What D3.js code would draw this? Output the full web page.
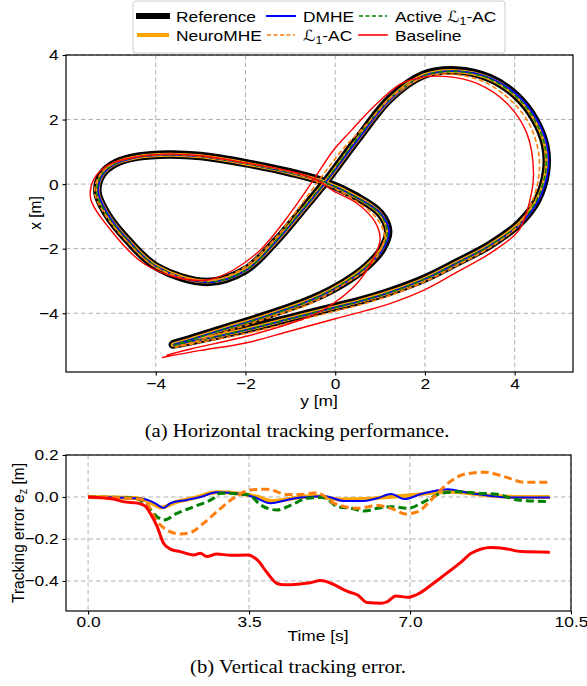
<!DOCTYPE html>
<html>
<head>
<meta charset="utf-8">
<script src="https://cdn.jsdelivr.net/npm/d3@7"></script>
<style>
  html, body { margin: 0; padding: 0; background: #ffffff; }
  svg { display: block; }
</style>
</head>
<body>
<svg id="chart" width="587" height="686"></svg>
<script>
// ---------------- DATA ----------------
// Top panel: horizontal trajectories, points as [y (m), x (m)]
const seriesNames = ["Reference", "NeuroMHE", "DMHE", "Active L1-AC", "L1-AC", "Baseline"];

const refPath = [
  [-3.62,-4.97],[-3.0,-4.8],[-2.0,-4.5],[-1.0,-4.15],[0.0,-3.8],[0.5,-3.63],[1.2,-3.34],
  [2.0,-2.92],[2.72,-2.42],[3.45,-1.88],[4.1,-1.22],[4.5,-0.5],[4.7,0.4],[4.68,1.2],
  [4.45,2.0],[4.05,2.72],[3.45,3.28],[2.7,3.52],[1.96,3.38],[1.22,2.65],[0.5,1.4],
  [-0.2,0.1],[-0.78,-0.88],[-1.3,-1.73],[-2.0,-2.66],[-2.85,-3.03],[-3.97,-2.57],
  [-4.63,-1.73],[-5.1,-0.9],[-5.3,-0.25],[-5.2,0.3],[-4.9,0.65],[-4.4,0.85],[-3.7,0.92],
  [-3.0,0.87],[-2.0,0.65],[-1.0,0.36],[-0.2,0.05],[0.49,-0.4],[1.0,-0.9],[1.18,-1.45],
  [1.05,-2.0],[0.7,-2.55],[0.2,-3.05],[-0.5,-3.55],[-1.5,-4.05],[-2.5,-4.48],[-3.3,-4.83],[-3.6,-4.95]
];
const neuroPath = [
  [-3.62,-4.98],[-3.0,-4.81],[-2.0,-4.51],[-1.0,-4.16],[0.0,-3.81],[0.5,-3.64],[1.2,-3.35],
  [2.0,-2.93],[2.72,-2.43],[3.45,-1.89],[4.1,-1.23],[4.5,-0.5],[4.7,0.4],[4.68,1.2],
  [4.45,2.0],[4.05,2.72],[3.45,3.27],[2.7,3.5],[1.96,3.36],[1.22,2.63],[0.5,1.39],
  [-0.2,0.09],[-0.78,-0.89],[-1.3,-1.74],[-2.0,-2.66],[-2.85,-3.02],[-3.97,-2.56],
  [-4.63,-1.72],[-5.09,-0.9],[-5.29,-0.25],[-5.19,0.3],[-4.9,0.64],[-4.4,0.84],[-3.7,0.91],
  [-3.0,0.86],[-2.0,0.64],[-1.0,0.35],[-0.2,0.04],[0.49,-0.41],[1.0,-0.91],[1.17,-1.46],
  [1.04,-2.01],[0.69,-2.56],[0.19,-3.06],[-0.5,-3.56],[-1.5,-4.06],[-2.5,-4.49],[-3.3,-4.84],[-3.6,-4.96]
];
const dmhePath = [
  [-3.6,-4.98],[-3.0,-4.82],[-2.0,-4.52],[-1.0,-4.17],[0.0,-3.82],[0.5,-3.65],[1.2,-3.36],
  [2.0,-2.94],[2.72,-2.44],[3.45,-1.9],[4.12,-1.24],[4.53,-0.5],[4.74,0.4],[4.72,1.2],
  [4.49,2.0],[4.08,2.73],[3.47,3.28],[2.7,3.5],[1.96,3.35],[1.22,2.61],[0.5,1.37],
  [-0.2,0.08],[-0.78,-0.9],[-1.3,-1.75],[-2.0,-2.68],[-2.85,-3.04],[-3.97,-2.57],
  [-4.62,-1.73],[-5.08,-0.9],[-5.28,-0.25],[-5.18,0.3],[-4.88,0.64],[-4.4,0.84],[-3.7,0.91],
  [-3.0,0.86],[-2.0,0.64],[-1.0,0.35],[-0.2,0.03],[0.49,-0.42],[1.02,-0.92],[1.2,-1.47],
  [1.06,-2.02],[0.7,-2.57],[0.2,-3.07],[-0.5,-3.57],[-1.5,-4.07],[-2.5,-4.5],[-3.3,-4.85],[-3.58,-4.96]
];
const activePath = [
  [-3.6,-4.99],[-3.0,-4.82],[-2.0,-4.52],[-1.0,-4.17],[0.0,-3.82],[0.5,-3.65],[1.2,-3.36],
  [2.0,-2.94],[2.72,-2.44],[3.45,-1.9],[4.09,-1.24],[4.49,-0.5],[4.69,0.4],[4.67,1.2],
  [4.44,2.0],[4.04,2.71],[3.44,3.26],[2.7,3.49],[1.96,3.35],[1.2,2.62],[0.47,1.38],
  [-0.22,0.08],[-0.8,-0.9],[-1.32,-1.75],[-2.0,-2.67],[-2.85,-3.03],[-3.97,-2.56],
  [-4.64,-1.72],[-5.11,-0.9],[-5.31,-0.25],[-5.2,0.3],[-4.9,0.64],[-4.4,0.84],[-3.7,0.91],
  [-3.0,0.86],[-2.0,0.64],[-1.0,0.35],[-0.2,0.03],[0.48,-0.42],[0.99,-0.92],[1.16,-1.47],
  [1.03,-2.02],[0.68,-2.57],[0.18,-3.07],[-0.52,-3.58],[-1.5,-4.08],[-2.5,-4.51],[-3.3,-4.86],[-3.58,-4.97]
];
const l1Path = [
  [-3.58,-5.06],[-3.0,-4.9],[-2.0,-4.63],[-1.0,-4.29],[0.0,-3.93],[0.5,-3.76],[1.2,-3.46],
  [2.0,-3.02],[2.72,-2.52],[3.45,-1.96],[4.05,-1.32],[4.4,-0.5],[4.55,0.4],[4.5,1.2],
  [4.27,2.0],[3.87,2.65],[3.3,3.18],[2.62,3.4],[1.96,3.3],[1.3,2.75],[0.7,1.85],
  [0.15,1.05],[-0.45,-0.05],[-0.9,-0.9],[-1.45,-1.85],[-2.1,-2.64],[-2.85,-3.0],[-3.97,-2.6],
  [-4.66,-1.75],[-5.15,-0.9],[-5.36,-0.25],[-5.24,0.3],[-4.92,0.65],[-4.4,0.85],[-3.7,0.92],
  [-3.0,0.87],[-2.0,0.65],[-1.0,0.37],[-0.25,0.02],[0.38,-0.45],[0.9,-1.02],[1.1,-1.57],
  [1.0,-2.08],[0.67,-2.66],[0.12,-3.17],[-0.5,-3.67],[-1.5,-4.15],[-2.5,-4.6],[-3.3,-4.95],[-3.55,-5.04]
];
const basePath = [
  [-3.85,-5.37],[-3.0,-5.15],[-2.0,-4.92],[-1.0,-4.55],[0.0,-4.17],[1.22,-3.7],[2.0,-3.27],
  [2.72,-2.72],[3.5,-2.1],[4.1,-1.42],[4.34,-0.5],[4.42,0.34],[4.27,1.58],[3.83,2.5],
  [3.16,3.12],[2.5,3.33],[1.9,3.3],[1.45,3.1],[0.85,2.39],[0.35,1.65],[-0.04,1.05],
  [-0.5,0.1],[-1.0,-0.9],[-1.67,-2.04],[-2.27,-2.66],[-2.85,-2.97],[-3.5,-2.9],
  [-4.27,-2.46],[-5.0,-1.43],[-5.45,-0.45],[-5.38,0.15],[-5.05,0.6],[-4.4,0.85],[-3.7,0.93],
  [-3.0,0.88],[-2.0,0.66],[-1.0,0.4],[-0.4,0.12],[-0.05,-0.2],[0.49,-0.6],[0.9,-1.2],
  [1.0,-1.73],[0.85,-2.3],[0.49,-3.07],[-0.27,-3.9],[-0.78,-4.21],[-2.0,-4.72],[-3.2,-5.1],[-3.75,-5.3]
];

// Bottom panel: vertical tracking error e_z (m) versus time (s)
const neuroT = [0, 1.0, 1.3, 1.6, 1.9, 2.3, 2.8, 3.3, 3.7, 4.0, 4.4, 4.9, 5.5, 6.0, 6.5, 7.0, 7.5, 7.9, 8.4, 8.9, 9.5, 10.04];
const neuroV = [0, -0.005, -0.02, -0.05, -0.025, -0.005, 0.022, 0.015, 0.0, -0.02, -0.008, 0.005, -0.012, -0.01, 0.0, 0.008, 0.02, 0.025, 0.015, 0.003, 0.0, 0.0];
const dmheT = [0, 0.99, 1.21, 1.46, 1.64, 1.79, 2.15, 2.44, 2.8, 3.32, 3.6, 3.97, 4.33, 4.62, 4.84, 5.13, 5.57, 6.0, 6.29, 6.59, 6.88, 7.24, 7.53, 7.82, 8.26, 8.76, 9.2, 10.04];
const dmheV = [0, -0.006, -0.01, -0.03, -0.052, -0.03, -0.014, 0, 0.022, 0.014, 0, -0.03, -0.014, -0.002, 0, 0.005, -0.019, -0.019, -0.006, 0.014, -0.01, 0.014, 0.029, 0.037, 0.02, 0.005, -0.003, -0.003];
const activeT = [0, 1.0, 1.21, 1.5, 1.64, 1.93, 2.3, 2.73, 2.88, 3.32, 3.5, 3.75, 4.11, 4.4, 4.77, 5.1, 5.43, 5.72, 6.0, 6.29, 6.59, 6.95, 7.31, 7.68, 8.04, 8.47, 8.9, 9.34, 10.04];
const activeV = [0, -0.005, -0.025, -0.094, -0.11, -0.078, -0.046, -0.006, 0.018, 0.014, 0.01, -0.038, -0.062, -0.04, -0.006, -0.002, -0.046, -0.054, -0.067, -0.054, -0.046, -0.054, -0.022, 0.018, 0.025, 0.018, 0.013, -0.014, -0.022];
const l1T = [0, 0.8, 1.21, 1.5, 1.71, 2.0, 2.22, 2.51, 2.8, 3.16, 3.52, 3.89, 4.33, 4.62, 4.98, 5.35, 5.86, 6.29, 6.59, 6.91, 7.17, 7.46, 7.82, 8.18, 8.62, 9.05, 9.49, 9.93, 10.04];
const l1V = [0, -0.005, -0.014, -0.117, -0.157, -0.176, -0.17, -0.125, -0.07, -0.006, 0.033, 0.037, 0.012, 0.012, 0.02, -0.03, -0.054, -0.041, -0.054, -0.081, -0.07, -0.014, 0.065, 0.108, 0.118, 0.097, 0.07, 0.07, 0.07];
const baseT = [0, 0.55, 0.76, 1.1, 1.25, 1.35, 1.5, 1.64, 1.79, 2.0, 2.3, 2.44, 2.58, 2.8, 3.1, 3.46, 3.68, 3.89, 4.11, 4.26, 4.62, 4.8, 5.06, 5.28, 5.64, 5.86, 6.07, 6.37, 6.51, 6.69, 6.95, 7.2, 7.46, 7.75, 8.11, 8.33, 8.76, 9.05, 9.42, 10.04];
const baseV = [0, -0.01, -0.022, -0.03, -0.045, -0.077, -0.14, -0.22, -0.248, -0.26, -0.276, -0.268, -0.284, -0.271, -0.278, -0.276, -0.30, -0.36, -0.412, -0.418, -0.414, -0.41, -0.398, -0.411, -0.45, -0.467, -0.503, -0.506, -0.498, -0.471, -0.478, -0.459, -0.419, -0.371, -0.31, -0.268, -0.24, -0.245, -0.26, -0.263];

// Tick values
const topXTicks = [-4, -2, 0, 2, 4];
const topYTicks = [-4, -2, 0, 2, 4];
const botXTicks = [0, 3.5, 7.0, 10.5];
const botYTicks = [-0.4, -0.2, 0.0, 0.2];

// ---------------- DRAWING ----------------
const svg = d3.select("#chart");
const SANS = "'Liberation Sans', Arial, Helvetica, sans-serif";
const SERIF = "'Liberation Serif', 'Times New Roman', serif";
const SX = 1.12; // horizontal stretch of the original figure
const minus = s => s.replace("-", "\u2212");

function addText(g, x, y, str, opts = {}) {
  const rot = opts.rotate ? ` rotate(${opts.rotate})` : "";
  const sc = opts.rotate ? `scale(1,${SX})` : `scale(${SX},1)`;
  return g.append("text")
    .attr("transform", `translate(${x},${y})${rot} ${sc}`)
    .attr("text-anchor", opts.anchor || "middle")
    .attr("font-family", opts.family || SANS)
    .attr("font-size", opts.size || 15.5)
    .attr("fill", "#000")
    .text(str);
}

function styleAxis(g) {
  g.select(".domain").remove();
  g.selectAll(".tick line").attr("stroke", "#000").attr("stroke-width", 1.1);
  g.selectAll(".tick text")
    .attr("font-family", SANS).attr("font-size", 15.5).attr("fill", "#000");
}

function dashGrid(g, x1, x2, y1, y2) {
  g.append("line").attr("x1", x1).attr("x2", x2).attr("y1", y1).attr("y2", y2)
    .attr("stroke", "#b0b0b0").attr("stroke-width", 1).attr("stroke-dasharray", "4.5,3");
}

// ---------- Top panel ----------
const T = { l: 66, r: 573, t: 55, b: 372 };
const hScale = d3.scaleLinear().domain([-6.0, 5.3]).range([T.l, T.r]);
const vScale = d3.scaleLinear().domain([-5.82, 4.0]).range([T.b, T.t]);

svg.append("clipPath").attr("id", "clipTop").append("rect")
  .attr("x", T.l).attr("y", T.t).attr("width", T.r - T.l).attr("height", T.b - T.t);

const gTopGrid = svg.append("g");
topXTicks.forEach(v => dashGrid(gTopGrid, hScale(v), hScale(v), T.t, T.b));
topYTicks.forEach(v => dashGrid(gTopGrid, T.l, T.r, vScale(v), vScale(v)));

const pathLine = d3.line().x(d => hScale(d[0])).y(d => vScale(d[1])).curve(d3.curveCatmullRom.alpha(0.5));
const topStyles = [
  { data: refPath, color: "#000000", w: 8.5, dash: null },
  { data: neuroPath, color: "#ffa500", w: 4, dash: null },
  { data: dmhePath, color: "#0000ff", w: 1.8, dash: null },
  { data: activePath, color: "#008000", w: 1.6, dash: "5,2.5" },
  { data: l1Path, color: "#ff7f0e", w: 1.6, dash: "5,2.5" },
  { data: basePath, color: "#ff0000", w: 1.4, dash: null }
];
const gTopLines = svg.append("g").attr("clip-path", "url(#clipTop)");
topStyles.forEach(s => {
  gTopLines.append("path").attr("d", pathLine(s.data))
    .attr("fill", "none").attr("stroke", s.color).attr("stroke-width", s.w)
    .attr("stroke-linecap", s.dash ? "butt" : "round").attr("stroke-linejoin", "round")
    .attr("stroke-dasharray", s.dash);
});

const axTB = svg.append("g").attr("transform", `translate(0,${T.b})`)
  .call(d3.axisBottom(hScale).tickValues(topXTicks).tickSizeInner(3.5).tickSizeOuter(0).tickPadding(2.5)
    .tickFormat(d => minus(d3.format("d")(d))));
styleAxis(axTB);
axTB.selectAll(".tick text").attr("transform", `scale(${SX},1)`);
const axTL = svg.append("g").attr("transform", `translate(${T.l},0)`)
  .call(d3.axisLeft(vScale).tickValues(topYTicks).tickSizeInner(3.5).tickSizeOuter(0).tickPadding(3)
    .tickFormat(d => minus(d3.format("d")(d))));
styleAxis(axTL);
axTL.selectAll(".tick text").attr("transform", `scale(${SX},1)`);

svg.append("rect").attr("x", T.l).attr("y", T.t).attr("width", T.r - T.l).attr("height", T.b - T.t)
  .attr("fill", "none").attr("stroke", "#000").attr("stroke-width", 1.2);

addText(svg, 319, 406, "y [m]");
addText(svg, 41, 213, "x [m]", { rotate: -90 });

// ---------- Legend ----------
const gLeg = svg.append("g");
gLeg.append("rect").attr("x", 133).attr("y", 1).attr("width", 372).attr("height", 52).attr("rx", 3)
  .attr("fill", "#fff").attr("fill-opacity", 0.85).attr("stroke", "#cccccc").attr("stroke-width", 1);
const legItems = [
  { name: seriesNames[0], color: "#000000", w: 6, dash: null, x: 139, row: 0 },
  { name: seriesNames[2], color: "#0000ff", w: 2, dash: null, x: 267, row: 0 },
  { name: seriesNames[3], color: "#008000", w: 1.6, dash: "4,2.5", x: 359, row: 0 },
  { name: seriesNames[1], color: "#ffa500", w: 4, dash: null, x: 139, row: 1 },
  { name: seriesNames[4], color: "#ff7f0e", w: 1.6, dash: "4,2.5", x: 267, row: 1 },
  { name: seriesNames[5], color: "#ff0000", w: 1.6, dash: null, x: 359, row: 1 }
];
const rowY = [16, 35];
legItems.forEach(it => {
  const y = rowY[it.row];
  gLeg.append("line").attr("x1", it.x).attr("x2", it.x + 28).attr("y1", y).attr("y2", y)
    .attr("stroke", it.color).attr("stroke-width", it.w).attr("stroke-dasharray", it.dash)
    .attr("stroke-linecap", it.dash ? "butt" : "square");
  const t = gLeg.append("text")
    .attr("transform", `translate(${it.x + (it.x === 139 ? 37 : 36)},${y + 5.5}) scale(${SX},1)`)
    .attr("font-family", SANS).attr("font-size", 15.5).attr("fill", "#000");
  if (it.name.indexOf("L1-AC") >= 0) {
    const pre = it.name.replace("L1-AC", "");
    if (pre) t.append("tspan").text(pre);
    t.append("tspan").attr("font-family", "'DejaVu Serif', 'DejaVu Sans', serif").attr("font-style", "italic").text("\u2112");
    t.append("tspan").attr("font-size", 11).attr("dy", 3).text("1");
    t.append("tspan").attr("dy", -3).text("-AC");
  } else {
    t.text(it.name);
  }
});

// Caption (a)
addText(svg, 297, 437, "(a) Horizontal tracking performance.", { family: SERIF, size: 18.5 });

// ---------- Bottom panel ----------
const B = { l: 66, r: 571, t: 455, b: 611 };
const tScale = d3.scaleLinear().domain([-0.48, 10.5]).range([B.l, B.r]);
const eScale = d3.scaleLinear().domain([-0.543, 0.2]).range([B.b, B.t]);

svg.append("clipPath").attr("id", "clipBot").append("rect")
  .attr("x", B.l).attr("y", B.t).attr("width", B.r - B.l).attr("height", B.b - B.t);

const gBotGrid = svg.append("g");
botXTicks.forEach(v => dashGrid(gBotGrid, tScale(v), tScale(v), B.t, B.b));
botYTicks.forEach(v => dashGrid(gBotGrid, B.l, B.r, eScale(v), eScale(v)));

const errLine = d3.line().x(d => tScale(d[0])).y(d => eScale(d[1])).curve(d3.curveMonotoneX);
const zip = (a, b) => a.map((v, i) => [v, b[i]]);
const botStyles = [
  { t: neuroT, v: neuroV, color: "#ffa500", w: 4, dash: null },
  { t: dmheT, v: dmheV, color: "#0000ff", w: 2, dash: null },
  { t: activeT, v: activeV, color: "#008000", w: 3, dash: "8,4" },
  { t: l1T, v: l1V, color: "#ff7f0e", w: 3, dash: "8,4" },
  { t: baseT, v: baseV, color: "#ff0000", w: 3, dash: null }
];
const gBotLines = svg.append("g").attr("clip-path", "url(#clipBot)");
botStyles.forEach(s => {
  gBotLines.append("path").attr("d", errLine(zip(s.t, s.v)))
    .attr("fill", "none").attr("stroke", s.color).attr("stroke-width", s.w)
    .attr("stroke-linejoin", "round").attr("stroke-dasharray", s.dash);
});

const axBB = svg.append("g").attr("transform", `translate(0,${B.b})`)
  .call(d3.axisBottom(tScale).tickValues(botXTicks).tickSizeInner(3.5).tickSizeOuter(0).tickPadding(2)
    .tickFormat(d3.format(".1f")));
styleAxis(axBB);
axBB.selectAll(".tick text").attr("transform", `scale(${SX},1)`);
const axBL = svg.append("g").attr("transform", `translate(${B.l},0)`)
  .call(d3.axisLeft(eScale).tickValues(botYTicks).tickSizeInner(3.5).tickSizeOuter(0).tickPadding(3)
    .tickFormat(d => minus(d3.format(".1f")(d))));
styleAxis(axBL);
axBL.selectAll(".tick text").attr("transform", `scale(${SX},1)`);

svg.append("rect").attr("x", B.l).attr("y", B.t).attr("width", B.r - B.l).attr("height", B.b - B.t)
  .attr("fill", "none").attr("stroke", "#000").attr("stroke-width", 1.2);

addText(svg, 318, 641, "Time [s]");
const yl = addText(svg, 24, 533, "", { rotate: -90 });
yl.append("tspan").text("Tracking error e");
yl.append("tspan").attr("font-size", 11).attr("dy", 3).text("z");
yl.append("tspan").attr("dy", -3).text(" [m]");

// Caption (b)
addText(svg, 298, 673, "(b) Vertical tracking error.", { family: SERIF, size: 18.5 });
</script>
</body>
</html>
